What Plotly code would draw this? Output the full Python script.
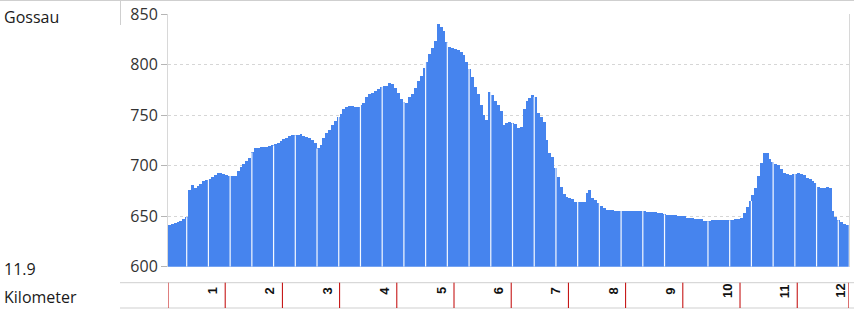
import numpy as np
import plotly.graph_objects as go

# ---- data -------------------------------------------------------------
STEP_KM = 0.05          # sampling step of the elevation profile
TOTAL_KM = 11.9
START_NAME = "Gossau"
DIST_LABEL = "11.9"
UNIT_LABEL = "Kilometer"

elevation = [
    641, 642, 643, 644, 645, 647, 649, 676, 681, 678,
    680, 682, 685, 686, 687, 689, 691, 693, 693, 692,
    691, 690, 690, 690, 695, 699, 702, 705, 708, 713,
    717, 717, 718, 718, 718, 719, 720, 721, 722, 724,
    726, 727, 729, 730, 730, 730, 731, 729, 728, 727,
    725, 722, 717, 720, 727, 732, 735, 740, 744, 748,
    751, 756, 758, 759, 759, 758, 758, 760, 762, 768,
    771, 772, 774, 776, 778, 779, 779, 782, 781, 777,
    772, 766, 763, 762, 768, 771, 777, 784, 789, 797,
    803, 810, 816, 823, 840, 837, 833, 822, 817, 816,
    815, 814, 812, 809, 803, 796, 788, 778, 771, 760,
    750, 745, 773, 770, 764, 760, 754, 740, 742, 743,
    742, 741, 737, 738, 756, 764, 767, 770, 768, 752,
    748, 743, 725, 712, 709, 698, 689, 679, 672, 669,
    668, 667, 664, 664, 664, 664, 673, 676, 668, 666,
    663, 660, 658, 656, 656, 656, 655, 655, 655, 655,
    655, 655, 655, 655, 655, 655, 655, 654, 654, 654,
    654, 653, 653, 652, 651, 651, 651, 651, 650, 650,
    650, 648, 648, 648, 647, 647, 647, 645, 645, 645,
    646, 646, 646, 646, 646, 646, 646, 646, 647, 647,
    648, 653, 659, 665, 671, 678, 690, 703, 712, 712,
    707, 704, 702, 701, 697, 693, 692, 691, 692, 692,
    693, 692, 691, 688, 687, 685, 683, 679, 678, 678,
    679, 678, 655, 649, 646, 644, 642, 641,
]

km_marks = [0, 1, 2, 3, 4, 5, 6, 7, 8, 9, 10, 11, 11.9]
km_labels = ["1", "2", "3", "4", "5", "6", "7", "8", "9", "10", "11", "12"]
y_ticks = [600, 650, 700, 750, 800, 850]

# ---- layout constants (pixels of the 854x311 page) ---------------------
W, H = 854, 311
PLOT_L, PLOT_R = 168, 848.7
PLOT_T, PLOT_B = 14, 266.7
STRIP_T, STRIP_B = 282.7, 308
BAR_COLOR = "#4684ee"
FONT = "Open Sans"


def py(px):
    return 1 - px / H


n = len(elevation)
x_left = np.arange(n) * STEP_KM
x_center = x_left + STEP_KM / 2

fig = go.Figure()
fig.add_trace(go.Bar(
    x=x_center, y=elevation, width=STEP_KM,
    marker=dict(color=BAR_COLOR, line=dict(width=0)),
    hoverinfo="x+y",
))

shapes = []
# thin white separation lines through the bars (rendering pattern of the original)
GAP_START, GAP_SPACING = 0.327, 0.3797
for i, gx in enumerate(np.arange(GAP_START, TOTAL_KM - 0.1, GAP_SPACING)):
    if i == 23:
        continue
    idx = min(int(gx / STEP_KM), n - 1)
    shapes.append(dict(type="line", xref="x", yref="y", x0=gx, x1=gx,
                       y0=600, y1=elevation[idx], layer="above",
                       line=dict(color="rgba(255,255,255,0.95)", width=1.2)))

# page frame lines
grey = "#cfcfcf"
shapes.append(dict(type="line", xref="paper", yref="paper", x0=0, x1=1,
                   y0=py(0.5), y1=py(0.5), line=dict(color=grey, width=1)))
shapes.append(dict(type="line", xref="paper", yref="paper", x0=120.5 / W, x1=120.5 / W,
                   y0=py(0), y1=py(25), line=dict(color=grey, width=1)))
for yy in (STRIP_T, STRIP_B):
    shapes.append(dict(type="line", xref="paper", yref="paper", x0=120 / W, x1=1,
                       y0=py(yy), y1=py(yy), line=dict(color=grey, width=1)))

# red km markers in the distance strip
for k in km_marks:
    shapes.append(dict(type="line", xref="x", yref="paper", x0=k, x1=k,
                       y0=py(STRIP_T), y1=py(STRIP_B),
                       line=dict(color="#c00000", width=1)))

annotations = []
for k, lab in zip(km_marks[1:], km_labels):
    annotations.append(dict(
        x=k, xref="x", y=py(291), yref="paper", text="<b>" + lab + "</b>",
        showarrow=False, textangle=-90, xanchor="center", yanchor="middle",
        xshift=-13 if k != km_marks[-1] else -9,
        font=dict(family="Liberation Sans", size=13, color="#111111"),
    ))

for txt, ypx in ((START_NAME, 17), (DIST_LABEL, 269), (UNIT_LABEL, 296.5)):
    annotations.append(dict(
        x=2 / W, xref="paper", y=py(ypx), yref="paper", text=txt,
        showarrow=False, xanchor="left", yanchor="middle",
        font=dict(family=FONT, size=16, color="#1a1a1a"),
    ))

fig.update_layout(
    template="none",
    width=W, height=H, autosize=False,
    margin=dict(l=0, r=0, t=0, b=0, pad=0, autoexpand=False),
    paper_bgcolor="white", plot_bgcolor="white",
    bargap=0, showlegend=False,
    shapes=shapes, annotations=annotations,
    xaxis=dict(
        domain=[PLOT_L / W, PLOT_R / W], range=[0, TOTAL_KM],
        showticklabels=False, showgrid=False, zeroline=False,
        ticks="", showline=False, fixedrange=True, automargin=False,
    ),
    yaxis=dict(
        domain=[py(PLOT_B), py(PLOT_T)], range=[600, 850],
        tickvals=y_ticks, ticktext=[str(v) for v in y_ticks],
        ticks="outside", ticklen=6, tickcolor="#b5b5b5",
        showgrid=True, gridcolor="#d6d6d6", griddash="dot", gridwidth=1,
        showline=True, linecolor="#d8d8d8", linewidth=1, mirror=True,
        zeroline=False, automargin=False,
        tickfont=dict(family=FONT, size=16, color="#333333"),
        fixedrange=True,
    ),
)

fig.write_html("out.html")
